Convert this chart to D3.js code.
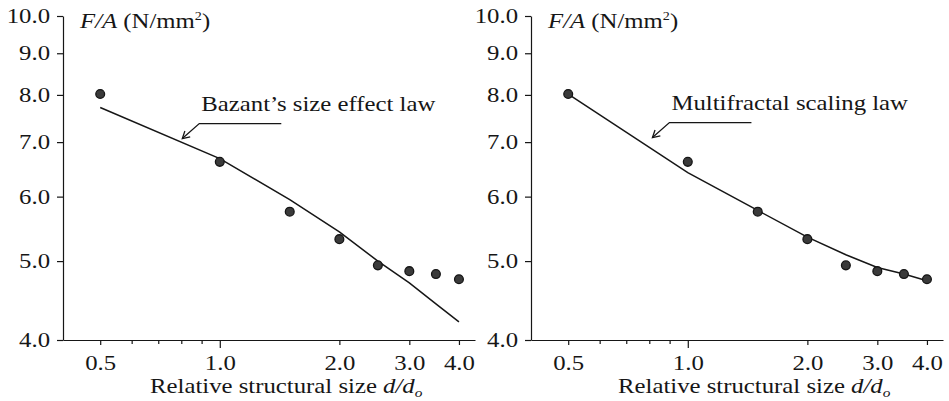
<!DOCTYPE html>
<html>
<head>
<meta charset="utf-8">
<script src="https://cdn.jsdelivr.net/npm/d3@7"></script>
<style>
  body { margin: 0; background: #fff; }
  svg { display: block; font-family: "Liberation Serif", "Times New Roman", serif; }
</style>
</head>
<body>
<svg id="chart" width="949" height="401"></svg>
<script>
// 1: DATA
const sizes = [0.5, 1.0, 1.5, 2.0, 2.5, 3.0, 3.5, 4.0];          // d/d0
const measured = [8.02, 6.62, 5.75, 5.32, 4.94, 4.86, 4.82, 4.75];  // F/A, N/mm2
const bazantLaw = [7.72, 6.68, 5.95, 5.43, 5.0, 4.7, 4.43, 4.21];
const multifractalLaw = [8.02, 6.42, 5.77, 5.35, 5.09, 4.91, 4.82, 4.73];

const yTicks = [4, 5, 6, 7, 8, 9, 10];
const xMajorTicks = [0.5, 1, 2, 3, 4];
const xMinorTicks = [0.6, 0.7, 0.8, 0.9];

const panels = [
    { law: bazantLaw, label: "Bazant\u2019s size effect law", tip: [0.8, 7.05] },
    { law: multifractalLaw, label: "Multifractal scaling law", tip: [0.81, 7.07] }
];

// 2: LAYOUT
const margin = { top: 16, left: 63 };
const plotW = 412, plotH = 324;
const panelGap = 468;
const stretch = "scale(1.18,1)";   // scanned type is wider than Times
const ink = "#161616";

const svg = d3.select("#chart");

svg.append("defs").append("marker")
    .attr("id", "arrow")
    .attr("viewBox", "-8 -5 10 10")
    .attr("refX", 0).attr("refY", 0)
    .attr("markerWidth", 10).attr("markerHeight", 10)
    .attr("markerUnits", "userSpaceOnUse")
    .attr("orient", "auto")
    .append("path")
    .attr("d", "M-7,-4 L0,0 L-7,4")
    .attr("fill", "none")
    .attr("stroke", ink)
    .attr("stroke-width", 1.3);

// 3: SCALES
const x = d3.scaleLog().domain([0.403, 4.39]).range([0, plotW]);
const y = d3.scaleLog().domain([4, 10]).range([plotH, 0]);

const line = d3.line()
    .x(d => x(d[0]))
    .y(d => y(d[1]));

function label(g, px, py, anchor) {
    return g.append("text")
        .attr("transform", `translate(${px},${py}) ${stretch}`)
        .attr("text-anchor", anchor || "start")
        .attr("fill", ink)
        .style("font-size", "21px");
}

panels.forEach((p, i) => {
    const g = svg.append("g")
        .attr("transform", `translate(${margin.left + i * panelGap},${margin.top})`);

    // 4: AXES
    g.append("g")
        .call(d3.axisLeft(y).tickValues(yTicks).tickFormat(d3.format(".1f"))
            .tickSize(6).tickSizeOuter(0).tickPadding(5));

    const xAxis = g.append("g")
        .attr("transform", `translate(0,${plotH})`)
        .call(d3.axisBottom(x).tickValues(xMajorTicks).tickFormat(d3.format(".1f"))
            .tickSize(5).tickSizeOuter(0).tickPadding(10));

    xAxis.selectAll(".tick line").filter(d => d === 1).attr("y2", 8);

    g.append("g")
        .attr("transform", `translate(0,${plotH})`)
        .call(d3.axisBottom(x).tickValues(xMinorTicks).tickFormat("").tickSize(4).tickSizeOuter(0))
        .select(".domain").remove();

    g.selectAll(".domain, .tick line").attr("stroke", ink).attr("stroke-width", 1.2);
    g.selectAll(".tick text")
        .attr("fill", ink)
        .style("font-size", "21px")
        .style("font-family", "Liberation Serif, serif")
        .attr("transform", stretch);

    // 5: DATA MARKS
    g.append("path")
        .datum(sizes.map((s, k) => [s, p.law[k]]))
        .attr("d", line)
        .attr("fill", "none")
        .attr("stroke", ink)
        .attr("stroke-width", 1.5);

    g.selectAll(".pt")
        .data(sizes.map((s, k) => [s, measured[k]]))
        .enter()
        .append("circle")
        .attr("class", "pt")
        .attr("cx", d => x(d[0]))
        .attr("cy", d => y(d[1]))
        .attr("r", 4.4)
        .attr("fill", "#3a3a3a")
        .attr("stroke", "#151515")
        .attr("stroke-width", 1.3);

    // 6: LABELS
    const yl = label(g, 17, 12);
    yl.append("tspan").style("font-style", "italic").text("F/A");
    yl.append("tspan").text(" (N/mm");
    yl.append("tspan").attr("dy", -8).style("font-size", "12px").text("2");
    yl.append("tspan").attr("dy", 8).text(")");

    const xl = label(g, 87, 377);
    xl.append("tspan").text("Relative structural size ");
    xl.append("tspan").style("font-style", "italic").text("d/d");
    xl.append("tspan").attr("dy", 4).style("font-style", "italic").style("font-size", "13px").text("o");

    // annotation with leader
    const tx = x(p.tip[0]), ty = y(p.tip[1]);
    g.append("path")
        .attr("d", `M${tx + 100},${ty - 16} H${tx + 18} L${tx + 1},${ty - 1}`)
        .attr("fill", "none")
        .attr("stroke", ink)
        .attr("stroke-width", 1.3)
        .attr("marker-end", "url(#arrow)");

    label(g, tx + 20, ty - 29).text(p.label);
});
</script>
</body>
</html>
